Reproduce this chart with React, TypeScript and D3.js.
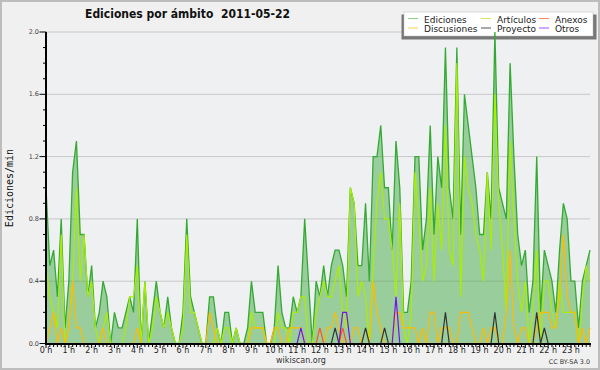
import React from 'react';
import * as d3 from 'd3';

const hourLabels: string[] = d3.range(24).map((h) => `${h} h`);
const yTicksMajor: number[] = [0, 0.4, 0.8, 1.2, 1.6, 2.0];

const ediciones: number[] = [
  1.0,0.5,0.6,0.3,0.8,0.1,0.4,1.1,1.3,0.7,
  0.7,0.3,0.5,0.1,0.2,0.4,0.3,0.0,0.2,0.1,
  0.1,0.2,0.3,0.2,0.8,0.0,0.4,0.0,0.2,0.4,
  0.2,0.1,0.3,0.1,0.0,0.0,0.2,0.8,0.3,0.2,
  0.1,0.0,0.0,0.3,0.3,0.1,0.0,0.2,0.2,0.0,
  0.1,0.0,0.0,0.1,0.4,0.2,0.2,0.2,0.0,0.0,
  0.1,0.5,0.2,0.1,0.1,0.3,0.2,0.3,0.8,0.4,
  0.0,0.4,0.3,0.5,0.3,0.5,0.6,0.6,0.5,0.3,
  1.0,0.9,0.5,0.5,0.9,0.4,1.2,1.2,1.4,1.0,
  1.0,0.6,1.3,1.0,0.2,0.2,0.4,1.2,1.2,0.6,
  0.8,1.4,0.7,1.2,1.0,1.9,1.0,0.8,1.9,0.7,
  1.6,1.4,1.2,1.0,0.7,0.7,1.1,0.8,2.0,1.0,
  0.9,0.8,1.8,1.2,0.7,0.5,0.6,0.2,0.4,1.2,
  0.2,0.6,0.5,0.4,0.2,0.6,0.9,0.8,0.4,0.4,
  0.1,0.4,0.5,0.6,
];

const articulos: number[] = [
  0.5,0.3,0.2,0.1,0.7,0.0,0.1,0.4,1.0,0.4,
  0.7,0.3,0.4,0.1,0.0,0.1,0.2,0.0,0.0,0.0,
  0.0,0.1,0.3,0.3,0.5,0.0,0.4,0.0,0.1,0.3,
  0.2,0.1,0.2,0.1,0.0,0.0,0.1,0.7,0.2,0.2,
  0.1,0.0,0.0,0.0,0.0,0.1,0.0,0.1,0.1,0.0,
  0.1,0.0,0.0,0.0,0.2,0.1,0.1,0.1,0.0,0.0,
  0.0,0.2,0.1,0.1,0.0,0.2,0.2,0.3,0.3,0.0,
  0.0,0.2,0.3,0.4,0.3,0.3,0.4,0.5,0.2,0.1,
  1.0,0.9,0.3,0.4,0.3,0.0,0.5,0.9,1.1,0.8,
  0.8,0.6,0.3,0.9,0.1,0.0,0.2,1.1,0.8,0.4,
  0.5,1.0,0.4,0.9,0.6,1.4,0.6,0.5,1.8,0.3,
  1.2,1.0,0.9,0.7,0.6,0.4,1.1,0.6,1.6,0.9,
  0.6,0.2,1.3,0.8,0.4,0.2,0.4,0.0,0.2,0.6,
  0.0,0.4,0.4,0.2,0.1,0.4,0.2,0.2,0.2,0.2,
  0.0,0.3,0.5,0.4,
];

const discusiones: number[] = [
  0,0.1,0.2,0,0.1,0,0.1,0.4,0.1,0.1,
  0,0,0,0,0,0.1,0,0,0,0,
  0,0,0,0,0.1,0,0,0,0,0,
  0,0,0,0,0,0,0,0,0,0,
  0,0,0,0.2,0.1,0,0,0,0,0,
  0,0,0,0,0.1,0.1,0.1,0.1,0,0,
  0.1,0.1,0,0,0.1,0.1,0.1,0.1,0,0,
  0,0,0,0,0.1,0.1,0.2,0.1,0,0,
  0,0.1,0.1,0,0,0,0.4,0.2,0.1,0,
  0,0,0.2,0.2,0.1,0.1,0.1,0.1,0,0.1,
  0,0.2,0.2,0,0.1,0.1,0.1,0,0,0.2,
  0.2,0.2,0.1,0,0,0.1,0,0.1,0.1,0,
  0,0.2,0.6,0.1,0,0.1,0.1,0,0,0.1,
  0.2,0.2,0.2,0.1,0.1,0.3,0.7,0.3,0.2,0.2,
  0,0.1,0,0.1,
];

const anexos: number[] = [
  0,0,0,0,0,0,0,0,0,0,
  0,0,0,0,0,0,0,0,0,0,
  0,0,0,0,0,0,0,0,0,0,
  0,0,0,0,0,0,0,0,0,0,
  0,0,0,0,0,0,0,0,0,0,
  0,0,0,0,0,0,0,0,0,0,
  0,0,0,0,0,0,0,0,0,0,
  0,0,0.1,0,0,0,0,0,0.1,0,
  0,0,0,0,0,0,0,0,0,0,
  0,0,0,0,0,0,0,0,0,0,
  0,0,0,0,0,0,0,0,0,0,
  0,0,0,0,0,0,0,0,0,0,
  0,0,0,0,0,0,0,0,0,0,
  0,0,0,0,0,0,0,0,0,0,
  0,0,0,0,
];

const proyecto: number[] = [
  0,0,0,0,0,0,0,0,0,0,
  0,0,0,0,0,0,0,0,0,0,
  0,0,0,0,0,0,0,0,0,0,
  0,0,0,0,0,0,0,0,0,0,
  0,0,0,0,0,0,0,0,0,0,
  0,0,0,0,0,0,0,0,0,0,
  0,0,0,0,0,0,0,0,0,0,
  0,0,0,0,0,0,0.1,0,0,0,
  0,0,0,0,0.1,0,0,0,0,0.1,
  0,0,0,0,0,0,0,0,0,0,
  0,0,0,0,0,0.2,0,0,0,0,
  0,0,0,0,0,0,0,0,0.2,0,
  0,0,0,0,0,0,0,0,0,0.2,
  0,0.1,0,0,0,0,0,0,0,0,
  0,0,0,0,
];

const otros: number[] = [
  0,0,0,0,0,0,0,0,0,0,
  0,0,0,0,0,0,0,0,0,0,
  0,0,0,0,0,0,0,0,0,0,
  0,0,0,0,0,0,0,0,0,0,
  0,0,0,0,0,0,0,0,0,0,
  0,0,0,0,0,0,0,0,0,0,
  0,0,0,0,0,0,0,0.1,0,0,
  0,0,0,0,0,0,0,0,0.2,0.2,
  0,0,0,0,0,0,0,0,0,0,
  0,0,0.3,0,0,0,0,0,0,0,
  0,0,0,0,0,0,0,0,0,0,
  0,0,0,0,0,0,0,0,0,0,
  0,0,0,0,0,0,0,0,0,0,
  0,0,0,0,0,0,0,0,0,0,
  0,0,0,0,
];

const seriesNames: string[] = ['Ediciones', 'Artículos', 'Anexos', 'Discusiones', 'Proyecto', 'Otros'];
const legendColors: string[] = ['#88d888', '#ccee55', '#ff8855', '#ffcc44', '#555555', '#9955ff'];

export default function App() {
  const W = 600, H = 370;
  const left = 46, right = 590, top = 32, bottom = 343.5;
  const x = d3.scaleLinear().domain([0, 143]).range([left, right]);
  const y = d3.scaleLinear().domain([0, 2]).range([bottom, top]);
  const line = d3.line<number>().x((_, i) => x(i)).y((d) => y(d));
  const area = d3.area<number>().x((_, i) => x(i)).y0(y(0)).y1((d) => y(d));

  const lines: { data: number[]; color: string; w: number }[] = [
    { data: articulos, color: '#aaee00', w: 1.2 },
    { data: discusiones, color: '#ffbb00', w: 1.2 },
    { data: anexos, color: '#ff5522', w: 1.2 },
    { data: proyecto, color: '#333333', w: 1.2 },
    { data: otros, color: '#7711ee', w: 1.2 },
  ];

  const minorY = d3.range(0, 21).map((k) => k / 10);
  const minorX = d3.range(0, 144);

  const legendCols = [408, 481, 539];
  const legendRows = [18.5, 28];

  return (
    <svg width={W} height={H} style={{ position: 'absolute', left: 0, top: 0, fontFamily: 'DejaVu Sans' }}>
      <rect x={0} y={0} width={W} height={H} fill="#f0f0f0" />
      <rect x={1} y={1} width={W - 2} height={H - 2} fill="none" stroke="#bdbdbd" strokeWidth={2} />
      <rect x={left} y={top} width={right - left} height={bottom - top} fill="#eff0f2" />
      {yTicksMajor.filter((t) => t > 0).map((t) => (
        <line key={t} x1={left} x2={right} y1={y(t)} y2={y(t)} stroke="#c8c8c8" strokeWidth={1} />
      ))}
      <text x={85} y={18} fontSize={12.5} fontWeight="bold" fill="#111" textLength={205} lengthAdjust="spacingAndGlyphs" style={{ whiteSpace: 'pre' }}>
        {'Ediciones por ámbito  2011-05-22'}
      </text>
      {/* legend */}
      <rect x={401.5} y={14.5} width={195} height={25} fill="#777" />
      <rect x={404} y={12} width={189} height={24} fill="#fff" stroke="#bbb" strokeWidth={0.5} />
      {seriesNames.map((n, k) => {
        const cx = legendCols[k % 3];
        const cy = legendRows[Math.floor(k / 3)];
        return (
          <g key={n}>
            <line x1={cx} x2={cx + 10} y1={cy} y2={cy} stroke={legendColors[k]} strokeWidth={1} />
            <text x={cx + 16} y={cy + 4} fontSize={9} fill="#222">{n}</text>
          </g>
        );
      })}
      <path d={area(ediciones) || ''} fill="#44aa44" fillOpacity={0.5} />
      <path d={line(ediciones) || ''} fill="none" stroke="#33aa33" strokeWidth={1.3} />
      {lines.map((l, k) => (
        <path key={k} d={line(l.data) || ''} fill="none" stroke={l.color} strokeWidth={l.w} />
      ))}
      {/* axes */}
      <line x1={left} x2={left} y1={top} y2={bottom + 1} stroke="#000" strokeWidth={2} />
      <line x1={left - 1} x2={right + 1} y1={bottom + 0.5} y2={bottom + 0.5} stroke="#000" strokeWidth={2} />
      {minorY.map((t) => (
        <line key={t} x1={Math.abs((t * 10) % 4) < 0.01 ? left - 6.5 : left - 3} x2={left} y1={y(t)} y2={y(t)} stroke="#000" strokeWidth={1} />
      ))}
      {yTicksMajor.map((t) => (
        <text key={t} x={39} y={y(t) + 2} fontSize={6.5} textAnchor="end" fill="#444">{t.toFixed(1)}</text>
      ))}
      {minorX.map((i) => (
        <line key={i} x1={x(i)} x2={x(i)} y1={bottom + 1} y2={bottom + (i % 6 === 0 ? 4.5 : 3.5)} stroke="#000" strokeWidth={1} />
      ))}
      {hourLabels.map((h, k) => (
        <text key={h} x={x(k * 6)} y={353} fontSize={8} textAnchor="middle" fill="#222">{h}</text>
      ))}
      <text x={13} y={188} fontSize={10} fontFamily="DejaVu Sans Mono" textAnchor="middle" transform="rotate(-90 13 188)" fill="#111">
        Ediciones/min
      </text>
      <text x={301} y={363} fontSize={8} textAnchor="middle" fill="#333">wikiscan.org</text>
      <text x={590} y={364} fontSize={6.4} textAnchor="end" fill="#333">CC BY-SA 3.0</text>
    </svg>
  );
}
